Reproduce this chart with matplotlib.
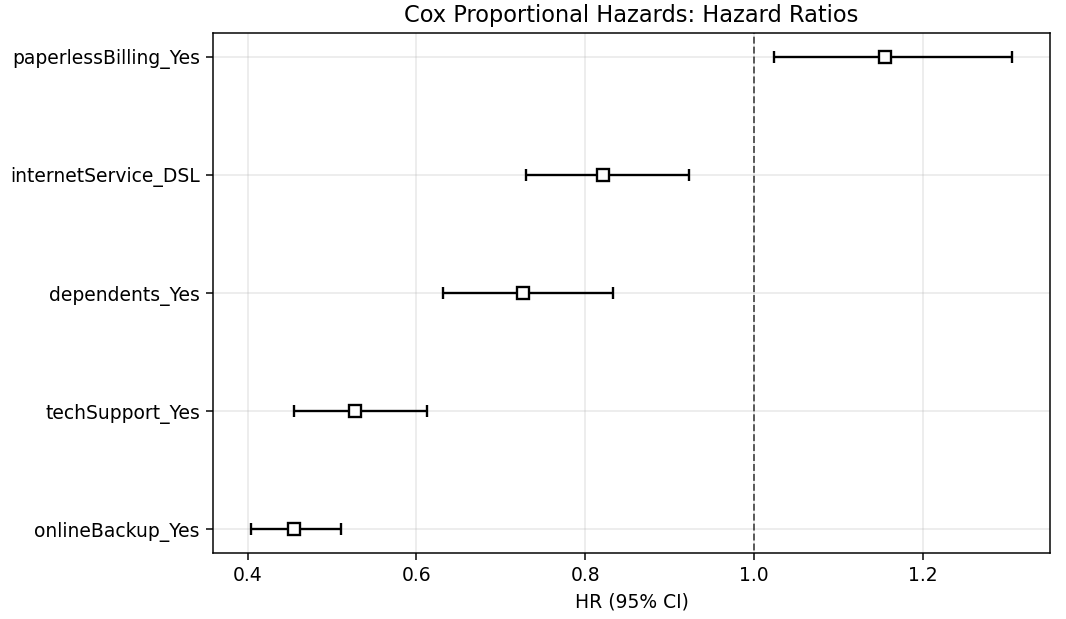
import numpy as np
import matplotlib
matplotlib.use("Agg")
import matplotlib.pyplot as plt

# covariates, bottom row first
covariates = ["onlineBackup_Yes", "techSupport_Yes", "dependents_Yes",
              "internetService_DSL", "paperlessBilling_Yes"]
hr = [0.455, 0.527, 0.726, 0.821, 1.156]
ci_low = [0.404, 0.455, 0.631, 0.730, 1.024]
ci_high = [0.511, 0.612, 0.833, 0.923, 1.306]

DPI = 135


def main():
    hr_arr = np.array(hr)
    xerr = np.vstack([hr_arr - np.array(ci_low), np.array(ci_high) - hr_arr])
    ypos = np.arange(len(covariates))

    fig = plt.figure(figsize=(1066 / DPI, 619 / DPI), dpi=DPI)
    ax = fig.add_axes([213 / 1066, 1 - 553 / 619, (1050 - 213) / 1066, (553 - 33) / 619])

    ax.errorbar(hr_arr, ypos, xerr=xerr, fmt="s", color="k",
                markerfacecolor="white", markeredgewidth=1.25,
                elinewidth=1.25, capsize=3, markersize=6)
    ylim = ax.get_ylim()
    ax.vlines(1.0, -2, len(covariates) + 1, linestyles="dashed",
              linewidths=1, alpha=0.65, color="k")
    ax.set_ylim(ylim)

    ax.set_yticks(ypos)
    ax.set_yticklabels(covariates)
    ax.set_xlabel("HR (95% CI)")
    ax.set_title("Cox Proportional Hazards: Hazard Ratios")
    ax.grid(True, alpha=0.3)

    fig.savefig("out.png", dpi=DPI)


if __name__ == "__main__":
    main()
